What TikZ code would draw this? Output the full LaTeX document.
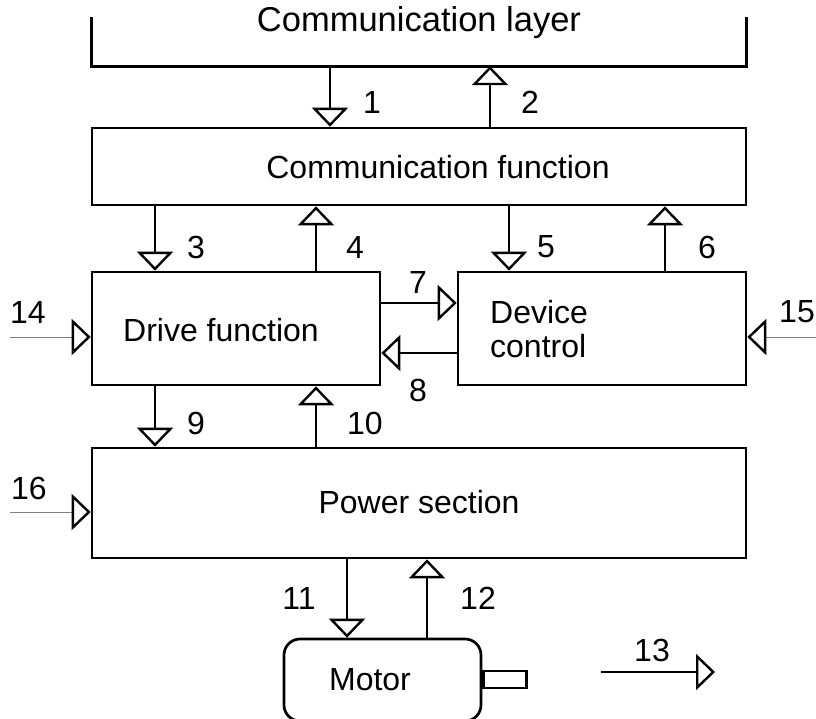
\documentclass[tikz,border=0pt]{standalone}
\usepackage{fontspec}
\setmainfont{Liberation Sans}
\usetikzlibrary{arrows.meta}
\begin{document}
\begin{tikzpicture}[x=1pt,y=-1pt,
  txt/.style={font=\fontsize{32}{34}\selectfont, inner sep=0pt},
  box/.style={draw, line width=2.7pt, rectangle, inner sep=0pt},
  boxline/.style={draw, line width=2.7pt},
  tip/.style={-{Triangle[open, length=19pt, width=36pt, line width=2.4pt, color=black]}},
  arr/.style={line width=2.4pt, tip},
  inarr/.style={line width=0.9pt, draw=gray, tip},
]
\useasboundingbox (0,0) rectangle (816,718);

% Communication layer (open at top)
\node[inner sep=0pt, minimum width=654pt, minimum height=49pt] (cl) at (419,41.5) {};
\draw[boxline] (cl.north west) -- (cl.south west) -- (cl.south east) -- (cl.north east);
\node[txt, font=\fontsize{34.5}{36}\selectfont] (cltext) at (419,23) {Communication layer};

% Boxes
\node[box, minimum width=654pt, minimum height=77pt] (cf) at (419,166.5) {};
\node[txt] (cftext) at (438,167) {Communication function};

\node[box, minimum width=288pt, minimum height=113pt] (df) at (236,328.5) {};
\node[txt] (dftext) at (221,330) {Drive function};

\node[box, minimum width=288pt, minimum height=113pt] (dc) at (602,328.5) {};
\node[txt, align=left, anchor=west] (dctext) at (490,329) {Device\\control};

\node[box, minimum width=654pt, minimum height=110pt] (ps) at (419,503) {};
\node[txt] (pstext) at (419,502) {Power section};

\node[box, rounded corners=16pt, minimum width=197pt, minimum height=82pt] (motor) at (382.5,680) {};
\node[txt] (mtext) at (370,680) {Motor};
\coordinate (ysh) at (0,679.5);
\node[box, line width=2.4pt, minimum width=43pt, minimum height=17pt, anchor=west] (shaft) at (motor.east |- ysh) {};

% x / y positions of connectors
\coordinate (x1) at (330,0);
\coordinate (x2) at (490,0);
\coordinate (x3) at (155,0);
\coordinate (x4) at (316,0);
\coordinate (x5) at (509,0);
\coordinate (x6) at (665,0);
\coordinate (x11) at (347,0);
\coordinate (x12) at (427,0);
\coordinate (y7) at (0,303);
\coordinate (y8) at (0,353);

% Connectors
\draw[arr] (cl.south -| x1) -- (cf.north -| x1);
\draw[arr] (cf.north -| x2) -- (cl.south -| x2);
\draw[arr] (cf.south -| x3) -- (df.north -| x3);
\draw[arr] (df.north -| x4) -- (cf.south -| x4);
\draw[arr] (cf.south -| x5) -- (dc.north -| x5);
\draw[arr] (dc.north -| x6) -- (cf.south -| x6);
\draw[arr] (df.east |- y7) -- (dc.west |- y7);
\draw[arr] (dc.west |- y8) -- (df.east |- y8);
\draw[arr] (df.south -| x3) -- (ps.north -| x3);
\draw[arr] (ps.north -| x4) -- (df.south -| x4);
\draw[arr] (ps.south -| x11) -- (motor.north -| x11);
\draw[arr] (motor.north -| x12) -- (ps.south -| x12);

% Inputs
\coordinate (s14) at (10,337);
\coordinate (s15) at (816,337);
\coordinate (s16) at (10,512);
\draw[inarr] (s14) -- (df.west |- s14);
\draw[inarr] (s15) -- (dc.east |- s15);
\draw[inarr] (s16) -- (ps.west |- s16);

% Output 13
\coordinate (a13) at (601,672);
\coordinate (b13) at (715,672);
\draw[arr] (a13) -- (b13);

% Labels
\node[txt] (l1) at (372,102) {1};
\node[txt] (l2) at (530,102) {2};
\node[txt] (l3) at (196,247) {3};
\node[txt] (l4) at (355,247) {4};
\node[txt] (l5) at (546,247) {5};
\node[txt] (l6) at (707,247) {6};
\node[txt] (l7) at (418,282) {7};
\node[txt] (l8) at (418,390) {8};
\node[txt] (l9) at (196,423) {9};
\node[txt] (l10) at (365,423) {10};
\node[txt] (l11) at (299,598) {11};
\node[txt] (l12) at (478,598) {12};
\node[txt] (l13) at (652,650) {13};
\node[txt] (l14) at (28,312) {14};
\node[txt] (l15) at (797,312) {15};
\node[txt] (l16) at (29,488) {16};
\end{tikzpicture}
\end{document}
